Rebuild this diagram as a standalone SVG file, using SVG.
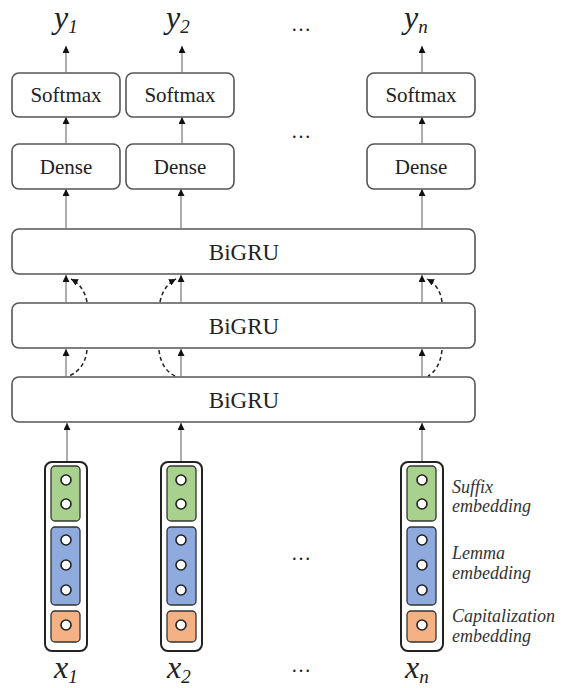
<svg xmlns="http://www.w3.org/2000/svg" width="563" height="688" viewBox="0 0 563 688">
<defs>
<marker id="ah" viewBox="0 0 10 10" refX="10" refY="5" markerWidth="7" markerHeight="7" markerUnits="userSpaceOnUse" orient="auto"><path d="M0,0 L10,5 L0,10 z" fill="#111"/></marker>
<style>
.box{fill:#fff;stroke:#555;stroke-width:1.6}
.lbl{font-family:"Liberation Serif","Times New Roman",serif;font-size:21px;fill:#222;text-anchor:middle}
.big{font-family:"Liberation Serif","Times New Roman",serif;font-size:23px;fill:#222;text-anchor:middle}
.var{font-family:"Liberation Serif","Times New Roman",serif;font-style:italic;font-size:32px;fill:#222}
.sub{font-size:19px}
.dots{font-family:"Liberation Serif","Times New Roman",serif;font-size:20px;fill:#222;text-anchor:middle}
.note{font-family:"Liberation Serif","Times New Roman",serif;font-style:italic;font-size:18px;fill:#333}
.arr{stroke:#777;stroke-width:1.2;fill:none;marker-end:url(#ah)}
.dash{stroke:#222;stroke-width:1.5;fill:none;stroke-dasharray:4 3}
.outer{fill:#fff;stroke:#222;stroke-width:2}
.g{fill:#a9d18e;stroke:#333;stroke-width:1.3}
.b{fill:#8faadc;stroke:#333;stroke-width:1.3}
.o{fill:#f4b183;stroke:#333;stroke-width:1.3}
.c{fill:#fff;stroke:#222;stroke-width:1.6}
</style>
</defs>

<g id="labels-y">
<text class="var" x="54" y="28">y<tspan class="sub" dy="5">1</tspan></text>
<text class="var" x="166" y="28">y<tspan class="sub" dy="5">2</tspan></text>
<text class="dots" x="301" y="31">…</text>
<text class="var" x="404" y="28">y<tspan class="sub" dy="5">n</tspan></text>
</g>

<g id="softmax1"><rect class="box" x="12" y="73" width="108" height="44" rx="7"/><text class="lbl" x="66" y="102">Softmax</text></g>
<g id="softmax2"><rect class="box" x="126" y="73" width="108" height="44" rx="7"/><text class="lbl" x="180" y="102">Softmax</text></g>
<g id="softmaxn"><rect class="box" x="367" y="73" width="108" height="44" rx="7"/><text class="lbl" x="421" y="102">Softmax</text></g>
<text class="dots" x="301" y="138">…</text>

<g id="dense1"><rect class="box" x="12" y="144" width="108" height="45" rx="7"/><text class="lbl" x="66" y="174">Dense</text></g>
<g id="dense2"><rect class="box" x="126" y="144" width="108" height="45" rx="7"/><text class="lbl" x="180" y="174">Dense</text></g>
<g id="densen"><rect class="box" x="367" y="144" width="108" height="45" rx="7"/><text class="lbl" x="421" y="174">Dense</text></g>

<g id="bigru1"><rect class="box" x="12" y="229" width="463" height="45" rx="7"/><text class="big" x="244" y="260">BiGRU</text></g>
<g id="bigru2"><rect class="box" x="12" y="303" width="463" height="45" rx="7"/><text class="big" x="244" y="334">BiGRU</text></g>
<g id="bigru3"><rect class="box" x="12" y="377" width="463" height="45" rx="7"/><text class="big" x="244" y="408">BiGRU</text></g>

<g id="connectors">
<line class="arr" x1="66" y1="73" x2="66" y2="46"/>
<line class="arr" x1="182" y1="73" x2="182" y2="46"/>
<line class="arr" x1="422" y1="73" x2="422" y2="46"/>
<line class="arr" x1="66" y1="144" x2="66" y2="117"/>
<line class="arr" x1="182" y1="144" x2="182" y2="117"/>
<line class="arr" x1="422" y1="144" x2="422" y2="117"/>
<line class="arr" x1="66" y1="229" x2="66" y2="189"/>
<line class="arr" x1="181" y1="229" x2="181" y2="189"/>
<line class="arr" x1="422" y1="229" x2="422" y2="189"/>
<line class="arr" x1="66" y1="303" x2="66" y2="275"/>
<line class="arr" x1="181" y1="303" x2="181" y2="275"/>
<line class="arr" x1="422" y1="303" x2="422" y2="275"/>
<line class="arr" x1="66" y1="377" x2="66" y2="349"/>
<line class="arr" x1="181" y1="377" x2="181" y2="349"/>
<line class="arr" x1="422" y1="377" x2="422" y2="349"/>
<line class="arr" x1="67" y1="462" x2="67" y2="423"/>
<line class="arr" x1="181" y1="462" x2="181" y2="423"/>
<line class="arr" x1="422" y1="462" x2="422" y2="423"/>
<path class="dash" d="M87,302 Q84,286 71,279" marker-end="url(#ah)"/>
<path class="dash" d="M160,302 Q163,286 176,279" marker-end="url(#ah)"/>
<path class="dash" d="M442,302 Q440,286 427,279" marker-end="url(#ah)"/>
<path class="dash" d="M87,350 Q85,369 69,376"/>
<path class="dash" d="M159,350 Q161,369 175,376"/>
<path class="dash" d="M442,350 Q440,369 428,376"/>
</g>

<g id="emb1">
<rect class="outer" x="45" y="462" width="42" height="189" rx="7"/>
<rect class="g" x="51" y="466" width="29" height="55" rx="4"/>
<rect class="b" x="51" y="527" width="29" height="78" rx="4"/>
<rect class="o" x="51" y="611" width="29" height="31" rx="4"/>
<circle class="c" cx="66" cy="480" r="5"/><circle class="c" cx="66" cy="504" r="5"/>
<circle class="c" cx="66" cy="540" r="5"/><circle class="c" cx="66" cy="565" r="5"/><circle class="c" cx="66" cy="590" r="5"/>
<circle class="c" cx="66" cy="625" r="5"/>
</g>
<g id="emb2">
<rect class="outer" x="161" y="462" width="41" height="189" rx="7"/>
<rect class="g" x="167" y="466" width="29" height="55" rx="4"/>
<rect class="b" x="167" y="527" width="29" height="78" rx="4"/>
<rect class="o" x="167" y="611" width="29" height="31" rx="4"/>
<circle class="c" cx="181" cy="480" r="5"/><circle class="c" cx="181" cy="504" r="5"/>
<circle class="c" cx="181" cy="540" r="5"/><circle class="c" cx="181" cy="565" r="5"/><circle class="c" cx="181" cy="590" r="5"/>
<circle class="c" cx="181" cy="625" r="5"/>
</g>
<g id="embn">
<rect class="outer" x="401" y="462" width="42" height="189" rx="7"/>
<rect class="g" x="407" y="466" width="29" height="55" rx="4"/>
<rect class="b" x="407" y="527" width="29" height="78" rx="4"/>
<rect class="o" x="407" y="611" width="29" height="31" rx="4"/>
<circle class="c" cx="422" cy="480" r="5"/><circle class="c" cx="422" cy="504" r="5"/>
<circle class="c" cx="422" cy="540" r="5"/><circle class="c" cx="422" cy="565" r="5"/><circle class="c" cx="422" cy="590" r="5"/>
<circle class="c" cx="422" cy="625" r="5"/>
</g>
<text class="dots" x="301" y="560">…</text>

<g id="notes">
<text class="note" x="452" y="493">Suffix</text>
<text class="note" x="452" y="512">embedding</text>
<text class="note" x="452" y="559">Lemma</text>
<text class="note" x="452" y="579">embedding</text>
<text class="note" x="452" y="622">Capitalization</text>
<text class="note" x="452" y="642">embedding</text>
</g>

<g id="labels-x">
<text class="var" x="54" y="678">x<tspan class="sub" dy="5">1</tspan></text>
<text class="var" x="167" y="678">x<tspan class="sub" dy="5">2</tspan></text>
<text class="dots" x="301" y="672">…</text>
<text class="var" x="405" y="678">x<tspan class="sub" dy="5">n</tspan></text>
</g>
</svg>
